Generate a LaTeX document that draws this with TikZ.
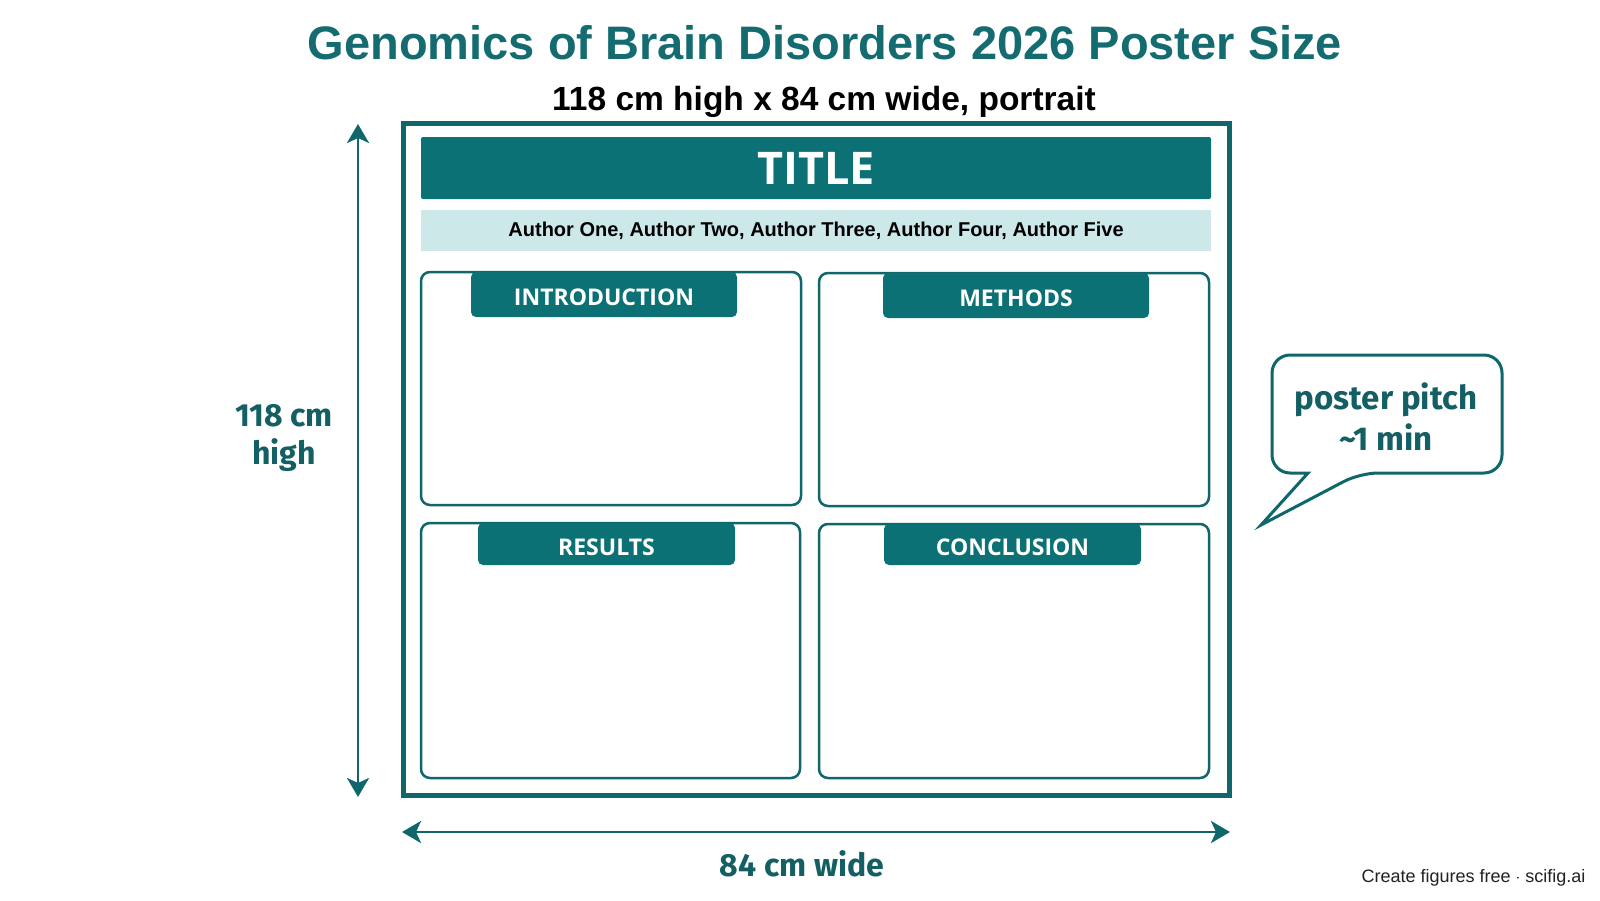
\documentclass[tikz,border=0pt]{standalone}
\usepackage{fontspec}
\setmainfont{Liberation Sans}
\newfontfamily\labfont{Fira Sans}
\newfontfamily\tabfont{Open Sans}
\usetikzlibrary{arrows.meta}
\definecolor{tealA}{HTML}{0B7175}
\definecolor{tealLine}{HTML}{0F666B}
\definecolor{tealText}{HTML}{146C70}
\definecolor{tealLab}{HTML}{135F64}
\definecolor{band}{HTML}{CDE8E9}
\definecolor{footgray}{HTML}{222222}
\tikzset{
  frame/.style={draw=tealLine, line width=5pt, minimum width=826pt, minimum height=672pt, inner sep=0pt},
  bar/.style={fill=tealA, rounded corners=2pt, inner sep=0pt, text=white},
  authband/.style={fill=band, inner sep=0pt, text=black},
  panel/.style={draw=tealLine, line width=2.5pt, rounded corners=9pt, inner sep=0pt, fill=white},
  tab/.style={fill=tealA, rounded corners=5pt, inner sep=0pt, text=white, text height=22pt, text depth=0pt, font=\tabfont\bfseries\fontsize{23}{26}\selectfont},
  dim/.style={draw=tealLine, line width=2.8pt, {Stealth[length=19pt,width=22pt,inset=5pt]}-{Stealth[length=19pt,width=22pt,inset=5pt]}},
  lab/.style={text=tealLab, font=\labfont\bfseries\fontsize{32}{38}\selectfont, align=center},
}
\begin{document}
\begin{tikzpicture}[x=1pt,y=-1pt]
\useasboundingbox[fill=white] (0,0) rectangle (1600,900);

% headings
\node[text=tealText, font=\bfseries\fontsize{47}{52}\selectfont] (head) at (825,43) {Genomics of Brain Disorders 2026 Poster Size};
\node[text=black, font=\bfseries\fontsize{33.5}{38}\selectfont] (sub) at (824,102) {118 cm high x 84 cm wide, portrait};

% poster frame
\node[frame] (poster) at (816.5,459.5) {};
\node[bar, minimum width=790pt, minimum height=62pt, font=\tabfont\bfseries\fontsize{45}{50}\selectfont] (title) at (816,168) {TITLE};
\node[authband, minimum width=790pt, minimum height=41pt, font=\bfseries\fontsize{20}{23}\selectfont] (authors) at (816,230.5) {Author One, Author Two, Author Three, Author Four, Author Five};

% panels
\node[panel, minimum width=380pt, minimum height=233pt] (intro) at (611,388.5) {};
\node[panel, minimum width=390pt, minimum height=233pt] (methods) at (1014,389.5) {};
\node[panel, minimum width=379pt, minimum height=255pt] (results) at (610.5,650.5) {};
\node[panel, minimum width=390pt, minimum height=254pt] (concl) at (1014,651) {};

% tabs
\node[tab, minimum width=266pt, minimum height=45pt] (introtab) at (604,294.5) {INTRODUCTION};
\node[tab, minimum width=266pt, minimum height=45pt] (methtab) at (1016,295.5) {METHODS};
\node[tab, minimum width=257pt, minimum height=42pt] (restab) at (606.5,544) {RESULTS};
\node[tab, minimum width=257pt, minimum height=41pt] (conctab) at (1012.5,544.5) {CONCLUSION};

% dimension arrows
\coordinate (vtop) at (358,124);
\coordinate (vbot) at (358,797);
\coordinate (hl) at (402,832);
\coordinate (hr) at (1230,832);
\draw[dim] (vtop) -- (vbot);
\draw[dim] (hl) -- (hr);
\node[lab] (hlab) at (284,438) {118 cm\\high};
\node[lab] (wlab) at (802,864) {84 cm wide};

% speech bubble
\draw[draw=tealLine, line width=3pt, fill=white, line join=miter, rounded corners=18pt]
  (1308,473) -- (1272,473) -- (1272,355) -- (1502,355) -- (1502,473) -- (1360,473)
  [sharp corners] -- (1261,525) -- cycle;
\node[lab, font=\labfont\bfseries\fontsize{33}{41}\selectfont] (pitch) at (1386,417) {poster pitch\\\textasciitilde1 min};

% footer
\node[anchor=east, text=footgray, font=\fontsize{18}{21}\selectfont] (foot) at (1589,878) {Create figures free $\cdot$ scifig.ai};
\end{tikzpicture}
\end{document}
